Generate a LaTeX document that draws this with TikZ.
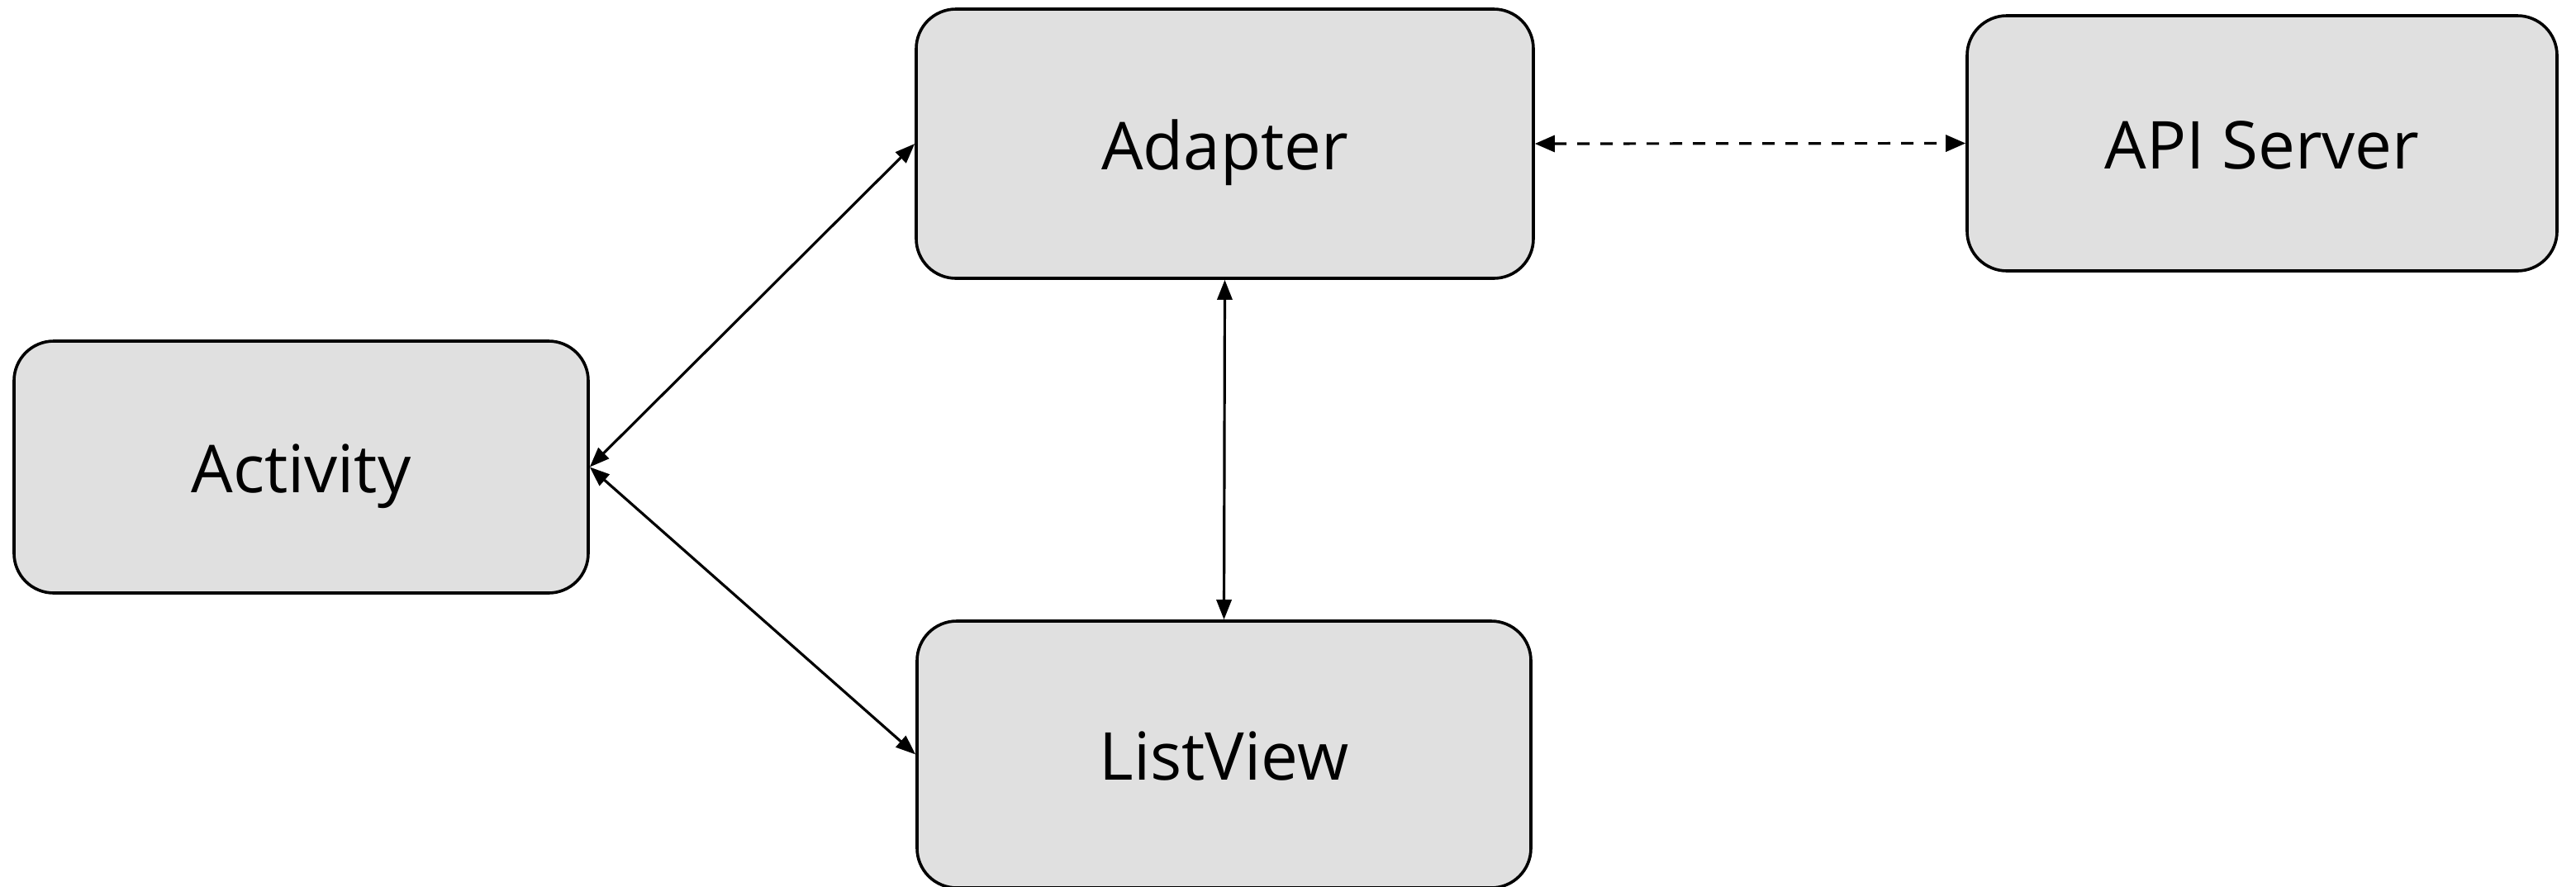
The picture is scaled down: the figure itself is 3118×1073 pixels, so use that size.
\documentclass[tikz,border=0pt]{standalone}
\usepackage{fontspec}
\setmainfont{Open Sans}
\usetikzlibrary{arrows.meta}
\definecolor{boxfill}{RGB}{224,224,224}
\begin{document}
\begin{tikzpicture}[x=0.25pt,y=-0.25pt,
  box/.style={draw=black, line width=0.9pt, fill=boxfill, rounded corners=12pt,
    inner sep=0pt, font=\fontsize{20pt}{24pt}\selectfont, text height=15.5pt, text depth=0pt},
  conn/.style={line width=0.8pt, {Triangle[length=6pt,width=4.5pt]}-{Triangle[length=6pt,width=4.5pt]}},
  dconn/.style={line width=0.8pt, dash pattern=on 3.75pt off 3.25pt,
    {Triangle[length=6pt,width=5pt]}-{Triangle[length=6pt,width=5pt]}}]
\useasboundingbox (0,0) rectangle (3118,1073);
\node[box, minimum width=173.75pt, minimum height=76.25pt] (act) at (364.5,565.5) {Activity};
\node[box, minimum width=186.75pt, minimum height=81.5pt] (adp) at (1482.5,174) {Adapter};
\node[box, minimum width=178.5pt, minimum height=77.25pt] (api) at (2738,173.5) {API Server};
\node[box, minimum width=185.75pt, minimum height=80.75pt] (lv) at (1481.5,913.5) {ListView};
\draw[conn] (act.east) -- (adp.west);
\draw[conn] (act.east) -- (lv.west);
\draw[conn] (adp.south) -- (lv.north);
\draw[dconn] (adp.east) -- (api.west);
\end{tikzpicture}
\end{document}
